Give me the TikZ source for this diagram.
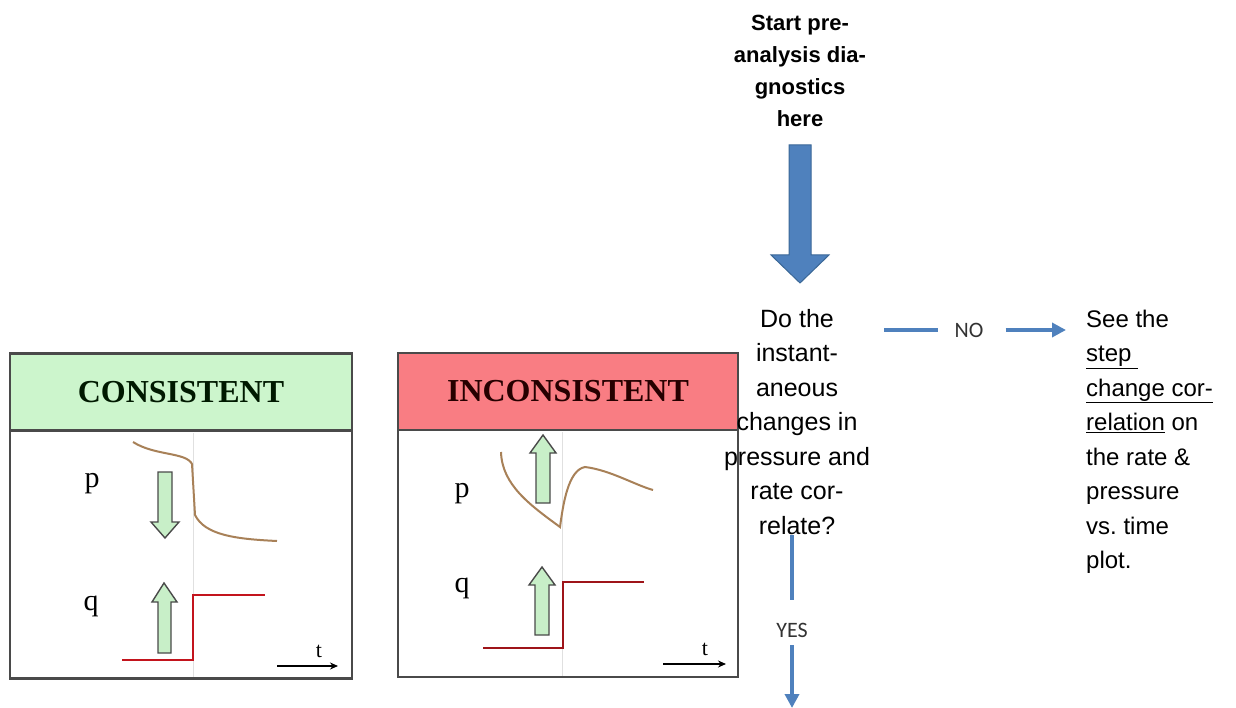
\documentclass[tikz,border=0pt]{standalone}
\usepackage{fontspec}
\setmainfont{Liberation Sans}
\newfontfamily\timesfont{Liberation Serif}
\newfontfamily\califont{Carlito}
\usetikzlibrary{arrows.meta,positioning,calc}
\definecolor{flowblue}{HTML}{4F81BD}
\definecolor{flowedge}{HTML}{3A6796}
\definecolor{mintfill}{HTML}{CCF5CC}
\definecolor{rosefill}{HTML}{F97D83}
\definecolor{frame}{HTML}{4A4A4A}
\definecolor{arrowgreen}{HTML}{C8EFC8}
\definecolor{brownline}{HTML}{A88158}
\definecolor{stepred}{HTML}{C3141D}
\definecolor{stepdark}{HTML}{9E1419}
\frenchspacing

\begin{document}
\begin{tikzpicture}[x=1pt,y=-1pt,
  titletxt/.style={inner sep=0pt,align=center,font=\bfseries\fontsize{22}{32}\selectfont},
  txt/.style={inner sep=0pt,align=center,font=\fontsize{25}{34.5}\selectfont},
  sidetxt/.style={inner sep=0pt,align=left,font=\fontsize{24}{34.5}\selectfont},
  yesno/.style={inner sep=0pt,text=black!80,font=\califont\fontsize{22}{26}\selectfont},
  panel/.style={rectangle,draw=frame,line width=2.2pt,fill=white,inner sep=0pt},
  header/.style={rectangle,draw=frame,line width=2.2pt,inner sep=0pt,
                 font=\timesfont\bfseries\fontsize{32}{36}\selectfont},
  axislbl/.style={inner sep=0pt,font=\timesfont\fontsize{30}{34}\selectfont},
  bigarr/.style={draw=flowedge,fill=flowblue,line width=1pt,line join=miter},
  garr/.style={draw=frame,fill=arrowgreen,line width=1.4pt,line join=miter},
  conn/.style={draw=flowblue,line width=4.5pt},
  tip/.style={-{Triangle[length=14pt,width=14pt]}},
  pcurve/.style={draw=brownline,line width=2pt},
  qstep/.style={line width=2.6pt},
  faint/.style={draw=black!12,line width=0.8pt},
  taxis/.style={-{Stealth[length=8pt,width=7pt]},line width=1.5pt}
]
\useasboundingbox (0,0) rectangle (1236,708);

% --- start of the chart
\node[titletxt,anchor=north] (start) at (800,15) {Start pre-\\analysis dia-\\gnostics\\here};
\coordinate (shaft) at (800,145);
\draw[bigarr] (shaft) ++(-11,0) -- ++(22,0) -- ++(0,110) -- ++(18,0)
  -- ++(-29,28) -- ++(-29,-28) -- ++(18,0) -- cycle;

% --- consistent panel
\node[panel,minimum width=342pt,minimum height=325pt] (conbox) at (181,516) {};
\node[header,fill=mintfill,text=black!90!green,minimum width=342pt,minimum height=77pt,
      anchor=north] (conhead) at (conbox.north) {CONSISTENT};
\draw[faint] (193,433) -- (193,677);
\node[axislbl,anchor=base] (conp) at (92,487) {p};
\node[axislbl,anchor=base] (conq) at (91,610) {q};
\draw[pcurve] (133,442) .. controls (155,456) and (186,452) .. (192,464)
  -- (195,515) .. controls (205,535) and (235,539) .. (277,541);
\draw[garr] (158,472) -- (172,472) -- (172,522) -- (179,522) -- (165,538)
  -- (151,522) -- (158,522) -- cycle;
\draw[garr] (158,653) -- (171,653) -- (171,602) -- (177,602) -- (164,583)
  -- (152,602) -- (158,602) -- cycle;
\draw[qstep,stepred] (122,660) -- (193,660) -- (193,595) -- (265,595);
\draw[taxis] (277,666) -- (338,666);
\node[axislbl,anchor=base,font=\timesfont\fontsize{22}{24}\selectfont] (cont) at (319,657) {t};

% --- inconsistent panel
\node[panel,minimum width=340pt,minimum height=324pt] (incbox) at (568,515) {};
\node[header,fill=rosefill,text=black!85!red,minimum width=340pt,minimum height=77pt,
      anchor=north] (inchead) at (incbox.north) {INCONSISTENT};
\draw[faint] (562,432) -- (562,676);
\node[axislbl,anchor=base] (incp) at (462,497) {p};
\node[axislbl,anchor=base] (incq) at (462,592) {q};
\draw[pcurve] (501,452) .. controls (502,485) and (530,505) .. (560,527)
  .. controls (563,505) and (568,470) .. (585,467)
  .. controls (610,470) and (635,485) .. (653,490);
\draw[garr] (536,503) -- (550,503) -- (550,453) -- (556,453) -- (543,435)
  -- (530,453) -- (536,453) -- cycle;
\draw[garr] (535,635) -- (549,635) -- (549,585) -- (555,585) -- (542,567)
  -- (529,585) -- (535,585) -- cycle;
\draw[qstep,stepdark] (483,648) -- (563,648) -- (563,582) -- (644,582);
\draw[taxis] (663,664) -- (726,664);
\node[axislbl,anchor=base,font=\timesfont\fontsize{22}{24}\selectfont] (inct) at (705,655) {t};

% --- decision
\node[txt,anchor=north] (question) at (797,309)
  {Do the\\instant-\\aneous\\changes in\\pressure and\\rate cor-\\relate?};
\node[sidetxt,anchor=north west] (seetext) at (1086,309.5)
  {See the\\\underline{step~}\\\underline{change cor-}\\\underline{relation} on\\the rate \&\\pressure\\vs. time\\plot.};

% --- branches
\node[yesno] (nolbl) at (969,330) {NO};
\coordinate (nostart) at (884,330);
\draw[conn] (nostart) -- ($(nolbl.west)+(-16,0)$);
\draw[conn,tip] ($(nolbl.east)+(22,0)$) -- ($(seetext.west |- nolbl)+(-20,0)$);

\node[yesno] (yeslbl) at (792,630) {YES};
\coordinate (yesstart) at (792,535);
\coordinate (yesend) at (792,708);
\draw[conn] (yesstart) -- ($(yeslbl.north)+(0,-23)$);
\draw[conn,tip] ($(yeslbl.south)+(0,8)$) -- (yesend);
\end{tikzpicture}
\end{document}
